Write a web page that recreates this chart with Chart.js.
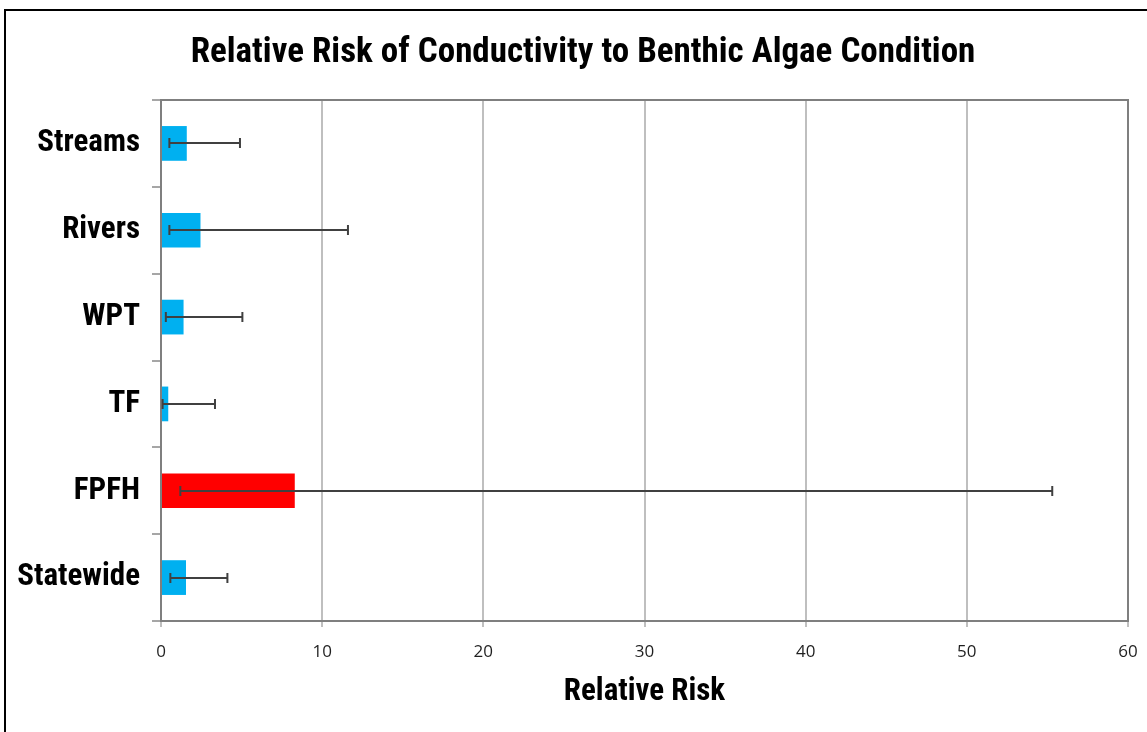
<!DOCTYPE html>
<html>
<head>
<meta charset="utf-8">
<script src="https://cdn.jsdelivr.net/npm/chart.js@4.4.0/dist/chart.umd.min.js"></script>
<style>
  html, body { margin: 0; padding: 0; background: #fff; overflow: hidden; }
  #wrap { position: relative; width: 1147px; height: 732px; overflow: hidden; }
  #frame { position: absolute; left: 4px; top: 9px; width: 2000px; height: 2000px;
           border-left: 2px solid #000; border-top: 2px solid #000; box-sizing: border-box; }
  #chartBox { position: absolute; left: 0; top: 0; width: 1166px; height: 732px; }
</style>
</head>
<body>
<div id="wrap">
  <div id="frame"></div>
  <div id="chartBox"><canvas id="riskChart"></canvas></div>
</div>
<script>
// categories (top to bottom) and relative risk values
const categories = ['Streams', 'Rivers', 'WPT', 'TF', 'FPFH', 'Statewide'];
const relativeRisk = [1.6, 2.45, 1.4, 0.45, 8.3, 1.55];
const lowerCI = [0.52, 0.52, 0.3, 0.1, 1.2, 0.58];
const upperCI = [4.9, 11.6, 5.05, 3.35, 55.3, 4.12];
const barColors = ['#00b0f0', '#00b0f0', '#00b0f0', '#00b0f0', '#ff0000', '#00b0f0'];
const xTicks = [0, 10, 20, 30, 40, 50, 60];

const NARROW = '"Roboto Condensed", "Open Sans Condensed", "Liberation Sans", sans-serif';

// draws the confidence interval whiskers on each bar
const errorBars = {
  id: 'errorBars',
  afterDatasetsDraw(chart) {
    const ctx = chart.ctx;
    const x = chart.scales.x;
    const meta = chart.getDatasetMeta(0);
    ctx.save();
    ctx.strokeStyle = '#404040';
    ctx.lineWidth = 2;
    meta.data.forEach((bar, i) => {
      const x1 = x.getPixelForValue(lowerCI[i]);
      const x2 = x.getPixelForValue(upperCI[i]);
      const y = Math.round(bar.y);
      ctx.beginPath();
      ctx.moveTo(x1, y); ctx.lineTo(x2, y);
      ctx.moveTo(x1, y - 5); ctx.lineTo(x1, y + 5);
      ctx.moveTo(x2, y - 5); ctx.lineTo(x2, y + 5);
      ctx.stroke();
    });
    ctx.restore();
  }
};

// gray box round the plot area, and the title centred on the framed picture
const plotBorder = {
  id: 'plotBorder',
  afterLayout(chart) {
    const t = chart.titleBlock;
    if (t) { t.left += 38; t.width = t.right - t.left; }
  },
  beforeDatasetsDraw(chart) {
    const { left, top, right, bottom } = chart.chartArea;
    const ctx = chart.ctx;
    ctx.save();
    ctx.strokeStyle = '#7f7f7f';
    ctx.lineWidth = 2;
    ctx.strokeRect(left, top, right - left, bottom - top);
    ctx.restore();
  }
};

new Chart(document.getElementById('riskChart'), {
  type: 'bar',
  data: {
    labels: categories,
    datasets: [{
      data: relativeRisk,
      backgroundColor: barColors,
      borderWidth: 0,
      barPercentage: 0.4,
      categoryPercentage: 1
    }]
  },
  options: {
    indexAxis: 'y',
    responsive: true,
    maintainAspectRatio: false,
    animation: false,
    layout: { padding: { left: 0, right: 38, top: 0, bottom: 0 } },
    plugins: {
      legend: { display: false },
      tooltip: { enabled: false },
      title: {
        display: true,
        text: 'Relative Risk of Conductivity to Benthic Algae Condition',
        color: '#000',
        font: { family: NARROW, size: 35, weight: 'bold', lineHeight: 1.2 },
        padding: { top: 32, bottom: 26 }
      }
    },
    scales: {
      x: {
        min: 0,
        max: 60,
        afterBuildTicks: s => { s.ticks = xTicks.map(v => ({ value: v })); },
        grid: { color: '#bfbfbf', lineWidth: 2, tickLength: 6, tickColor: '#bfbfbf' },
        border: { color: '#7f7f7f', width: 2 },
        ticks: { color: '#1f1f1f', font: { family: '"Open Sans", sans-serif', size: 17 }, padding: 15, maxRotation: 0 },
        title: {
          display: true,
          text: 'Relative Risk',
          color: '#000',
          font: { family: NARROW, size: 31, weight: 'bold', lineHeight: 1.2 },
          padding: { top: 4, bottom: 21 }
        },
        afterFit: s => { s.height = 111; }
      },
      y: {
        grid: { drawOnChartArea: false, tickLength: 9, color: '#a6a6a6', lineWidth: 2, offset: true },
        border: { color: '#7f7f7f', width: 2 },
        ticks: { color: '#000', font: { family: NARROW, size: 31, weight: 'bold' }, padding: 12 },
        afterFit: s => { s.width = 161; }
      }
    }
  },
  plugins: [plotBorder, errorBars]
});
</script>
</body>
</html>
